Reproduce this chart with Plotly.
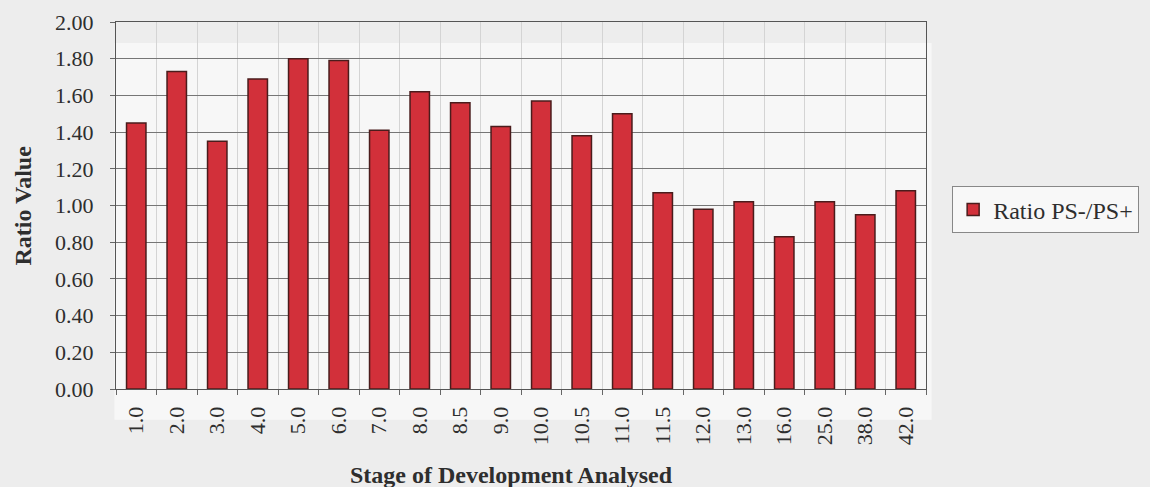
import plotly.graph_objects as go

# Developmental stages analysed and the PS-/PS+ ratio measured at each
stages = ["1.0", "2.0", "3.0", "4.0", "5.0", "6.0", "7.0", "8.0", "8.5", "9.0",
          "10.0", "10.5", "11.0", "11.5", "12.0", "13.0", "16.0", "25.0", "38.0", "42.0"]
ratio_values = [1.45, 1.73, 1.35, 1.69, 1.80, 1.79, 1.41, 1.62, 1.56, 1.43,
                1.57, 1.38, 1.50, 1.07, 0.98, 1.02, 0.83, 1.02, 0.95, 1.08]
y_ticks = [0.0, 0.2, 0.4, 0.6, 0.8, 1.0, 1.2, 1.4, 1.6, 1.8, 2.0]
y_tick_text = ["0.00", "0.20", "0.40", "0.60", "0.80", "1.00",
               "1.20", "1.40", "1.60", "1.80", "2.00"]

serif = "Liberation Serif, Times New Roman, serif"
ink = "#2e2e2e"

fig = go.Figure()
fig.add_trace(go.Bar(
    x=stages,
    y=ratio_values,
    name="Ratio PS-/PS+",
    marker=dict(color="#d2303a", line=dict(color="#4a1c1c", width=1.5)),
))

fig.update_layout(
    width=1150,
    height=487,
    margin=dict(l=116, r=223, t=22, b=98),
    paper_bgcolor="#ededed",
    plot_bgcolor="rgba(0,0,0,0)",
    bargap=0.52,
    font=dict(family=serif, color=ink),
    showlegend=True,
    legend=dict(
        x=1.031, y=0.552, xanchor="left", yanchor="top",
        bgcolor="#f8f8f8", bordercolor="#888888", borderwidth=1,
        font=dict(family=serif, size=24, color=ink),
        itemwidth=30,
    ),
    xaxis=dict(
        type="category",
        tickson="boundaries",
        ticks="outside", ticklen=5, tickcolor="#666666",
        tickangle=-90,
        ticklabelstandoff=8,
        tickfont=dict(family=serif, size=22, color=ink),
        showgrid=True, gridcolor="#d4d4d4", gridwidth=1,
        showline=True, linecolor="#555555", linewidth=1, mirror=True,
        automargin=False,
    ),
    yaxis=dict(
        range=[0, 2.0],
        tickvals=y_ticks, ticktext=y_tick_text,
        ticks="outside", ticklen=5, tickcolor="#666666",
        ticklabelstandoff=12,
        tickfont=dict(family=serif, size=22, color=ink),
        showgrid=True, gridcolor="#767676", gridwidth=1,
        showline=True, linecolor="#555555", linewidth=1, mirror=True,
        zeroline=False,
        automargin=False,
    ),
    shapes=[
        # lighter panel behind the bars
        dict(type="rect", xref="paper", yref="paper",
             x0=-0.002, x1=1.007, y0=-0.084, y1=0.943,
             fillcolor="#f7f7f7", line=dict(width=0), layer="below"),
    ],
    annotations=[
        dict(text="<b>Ratio Value</b>", xref="paper", yref="paper",
             x=-0.116, y=0.5, xanchor="center", yanchor="middle",
             textangle=-90, showarrow=False,
             font=dict(family=serif, size=24, color=ink)),
        dict(text="<b>Stage of Development Analysed</b>", xref="paper", yref="paper",
             x=0.488, y=-0.234, xanchor="center", yanchor="middle",
             showarrow=False,
             font=dict(family=serif, size=24, color=ink)),
    ],
)

fig.write_html("out.html")
